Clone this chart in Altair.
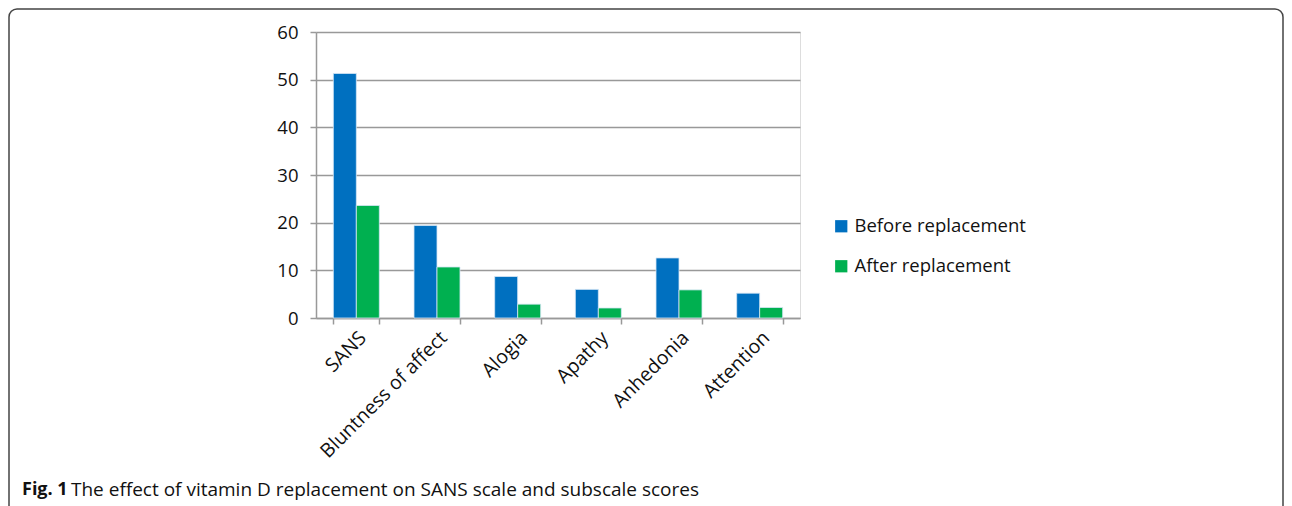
import altair as alt
import pandas as pd

categories = ["SANS", "Bluntness of affect", "Alogia", "Apathy", "Anhedonia", "Attention"]
before = [51.3, 19.4, 8.7, 6.0, 12.6, 5.2]
after = [23.6, 10.7, 2.9, 2.1, 5.9, 2.2]
series = ["Before replacement", "After replacement"]
colors = ["#0070C0", "#00B050"]

rows = []
for c, b, a in zip(categories, before, after):
    rows.append({"cat": c, "series": series[0], "value": b})
    rows.append({"cat": c, "series": series[1], "value": a})
df = pd.DataFrame(rows)

FONT = "Open Sans"

bars = alt.Chart(df).mark_bar(stroke="#D6E6F5", strokeWidth=0.8).encode(
    x=alt.X("cat:N", sort=categories, title=None,
            scale=alt.Scale(paddingInner=0.43, paddingOuter=0.215),
            axis=alt.Axis(labelAngle=-45, labelFontSize=19.5, labelFont=FONT, labelColor="#111",
                          tickBand="extent", tickColor="#999", tickSize=6, tickWidth=1.5,
                          domainColor="#999", domainWidth=1.5, labelPadding=4, grid=False,
                          labelLimit=0)),
    xOffset=alt.XOffset("series:N", sort=series),
    y=alt.Y("value:Q", title=None,
            scale=alt.Scale(domain=[0, 60]),
            axis=alt.Axis(values=[0, 10, 20, 30, 40, 50, 60], labelFontSize=18.5, labelFont=FONT,
                          labelColor="#111", tickColor="#999", tickSize=6, tickWidth=1.5,
                          domainColor="#999", domainWidth=1.5, gridColor="#999", gridWidth=1.5,
                          labelPadding=12)),
    color=alt.Color("series:N", sort=series,
                    scale=alt.Scale(domain=series, range=colors),
                    legend=alt.Legend(title=None, orient="none", legendX=516, legendY=185,
                                      symbolType="square", symbolSize=150, symbolStrokeWidth=0,
                                      labelFontSize=18.5, labelFont=FONT, labelColor="#111",
                                      rowPadding=21, labelOffset=4, labelLimit=0)),
)

cap = pd.DataFrame({"t": ["x"]})
cap_bold = alt.Chart(cap).mark_text(text="Fig. 1", fontWeight="bold", fontSize=18, font=FONT,
                                    align="left", baseline="middle", color="#111").encode(
    x=alt.value(-294), y=alt.value(458))
cap_text = alt.Chart(cap).mark_text(text="The effect of vitamin D replacement on SANS scale and subscale scores",
                                    fontSize=19, font=FONT, align="left", baseline="middle",
                                    color="#111").encode(
    x=alt.value(-245), y=alt.value(458))
frame = alt.Chart(cap).mark_rect(fill=None, stroke="#444", strokeWidth=1.5, cornerRadius=8).encode(
    x=alt.value(-307), x2=alt.value(967), y=alt.value(-23), y2=alt.value(520))

chart = alt.layer(frame, bars, cap_bold, cap_text).properties(
    width=484, height=286,
    padding={"left": 308, "top": 24, "right": 484, "bottom": 200},
    autosize=alt.AutoSizeParams(type="none"),
).configure_view(stroke=None).configure(background="white")

chart.save("out.html", embed_options={"renderer": "svg", "actions": False})
